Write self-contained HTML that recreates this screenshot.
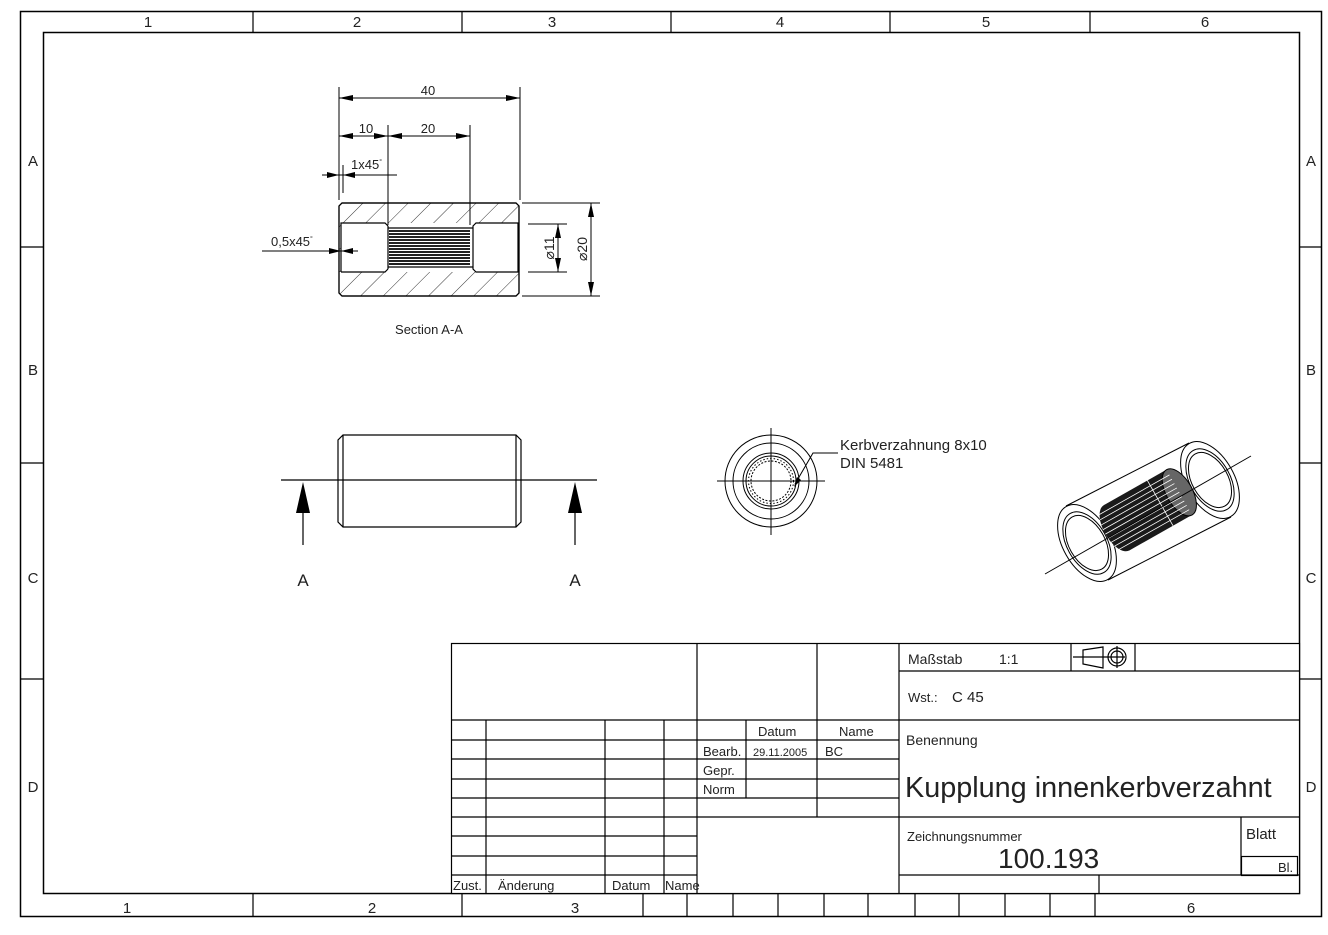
<!DOCTYPE html>
<html><head><meta charset="utf-8"><style>
html,body{margin:0;padding:0;background:#fff;}
svg{display:block;font-family:"Liberation Sans",Arial,sans-serif;}
</style></head><body>
<svg width="1328" height="935" viewBox="0 0 1328 935" xmlns="http://www.w3.org/2000/svg">
<defs>
<pattern id="hatch" patternUnits="userSpaceOnUse" width="16" height="16" patternTransform="rotate(45)">
<line x1="0" y1="0" x2="0" y2="16" stroke="#000" stroke-width="0.8"/>
</pattern>
</defs>
<g fill="none" stroke="#000" stroke-width="1.5">
<rect x="20.5" y="11.5" width="1301" height="905"/>
<rect x="43.5" y="32.5" width="1256" height="861"/>
</g>
<g stroke="#000" stroke-width="1.2">
<line x1="253" y1="11" x2="253" y2="32"/><line x1="462" y1="11" x2="462" y2="32"/><line x1="671" y1="11" x2="671" y2="32"/><line x1="890" y1="11" x2="890" y2="32"/><line x1="1090" y1="11" x2="1090" y2="32"/>
<line x1="253" y1="894" x2="253" y2="917"/><line x1="462" y1="894" x2="462" y2="917"/>
<line x1="643" y1="894" x2="643" y2="917"/><line x1="687" y1="894" x2="687" y2="917"/><line x1="733" y1="894" x2="733" y2="917"/><line x1="778" y1="894" x2="778" y2="917"/><line x1="824" y1="894" x2="824" y2="917"/><line x1="868" y1="894" x2="868" y2="917"/><line x1="915" y1="894" x2="915" y2="917"/><line x1="959" y1="894" x2="959" y2="917"/><line x1="1005" y1="894" x2="1005" y2="917"/><line x1="1050" y1="894" x2="1050" y2="917"/><line x1="1095" y1="894" x2="1095" y2="917"/>
<line x1="20" y1="247" x2="43" y2="247"/><line x1="20" y1="463" x2="43" y2="463"/><line x1="20" y1="679" x2="43" y2="679"/>
<line x1="1300" y1="247" x2="1322" y2="247"/><line x1="1300" y1="463" x2="1322" y2="463"/><line x1="1300" y1="679" x2="1322" y2="679"/>
</g>
<g font-size="15" fill="#222" text-anchor="middle">
<text x="148" y="27">1</text><text x="357" y="27">2</text><text x="552" y="27">3</text><text x="780" y="27">4</text><text x="986" y="27">5</text><text x="1205" y="27">6</text>
<text x="127" y="913">1</text><text x="372" y="913">2</text><text x="575" y="913">3</text><text x="1191" y="913">6</text>
<text x="33" y="166">A</text><text x="33" y="375">B</text><text x="33" y="583">C</text><text x="33" y="792">D</text>
<text x="1311" y="166">A</text><text x="1311" y="375">B</text><text x="1311" y="583">C</text><text x="1311" y="792">D</text>
</g>

<!-- Section A-A -->
<path d="M342,203 L516,203 L519,206 L519,293 L516,296 L342,296 L339,293 L339,206 Z" fill="url(#hatch)" stroke="#000" stroke-width="1.2"/>
<rect x="341" y="223" width="177" height="49" fill="#fff"/>
<g fill="none" stroke="#000" stroke-width="1.2">
<path d="M339,206 L342,203 L516,203 L519,206 L519,293 L516,296 L342,296 L339,293 Z"/>
<path d="M341,272 L341,223 L385,223 L388,226 M388,269 L385,272 L341,272"/>
<line x1="388" y1="226" x2="388" y2="269"/>
<path d="M473,226 L476,223 L518,223 L518,272 L476,272 L473,269 Z"/>
<line x1="388" y1="228" x2="473" y2="228"/><line x1="388" y1="267" x2="473" y2="267"/>
</g>
<g stroke="#000" stroke-width="1.8">
<line x1="389" y1="231" x2="470" y2="231"/><line x1="389" y1="234" x2="470" y2="234"/><line x1="389" y1="237" x2="470" y2="237"/><line x1="389" y1="240" x2="470" y2="240"/><line x1="389" y1="243" x2="470" y2="243"/><line x1="389" y1="246" x2="470" y2="246"/><line x1="389" y1="249" x2="470" y2="249"/><line x1="389" y1="252" x2="470" y2="252"/><line x1="389" y1="255" x2="470" y2="255"/><line x1="389" y1="258" x2="470" y2="258"/><line x1="389" y1="261" x2="470" y2="261"/><line x1="389" y1="264" x2="470" y2="264"/>
</g>
<!-- dims -->
<g stroke="#000" stroke-width="1" fill="none">
<line x1="339" y1="87" x2="339" y2="200"/><line x1="520" y1="87" x2="520" y2="200"/>
<line x1="339" y1="98" x2="520" y2="98"/>
<line x1="388" y1="125" x2="388" y2="225"/><line x1="470" y1="125" x2="470" y2="225"/>
<line x1="339" y1="136" x2="470" y2="136"/>
<line x1="322" y1="175" x2="397" y2="175"/><line x1="343" y1="165" x2="343" y2="193"/>
<line x1="262" y1="251" x2="358" y2="251"/>
<line x1="522" y1="203" x2="600" y2="203"/><line x1="522" y1="296" x2="600" y2="296"/>
<line x1="528" y1="224" x2="567" y2="224"/><line x1="528" y1="272" x2="567" y2="272"/>
<line x1="591" y1="203" x2="591" y2="296"/><line x1="558" y1="224" x2="558" y2="272"/>
</g>
<g fill="#000">
<path d="M339,98 l14,-3 v6z"/><path d="M520,98 l-14,-3 v6z"/>
<path d="M339,136 l14,-3 v6z"/><path d="M388,136 l-14,-3 v6z"/><path d="M388,136 l14,-3 v6z"/><path d="M470,136 l-14,-3 v6z"/>
<path d="M339,175 l-12,-3 v6z"/><path d="M343,175 l12,-3 v6z"/>
<path d="M341,251 l-12,-3 v6z"/><path d="M341,251 l12,-3 v6z"/>
<path d="M591,203 l-3,14 h6z"/><path d="M591,296 l-3,-14 h6z"/>
<path d="M558,224 l-3,14 h6z"/><path d="M558,272 l-3,-14 h6z"/>
</g>
<g font-size="13" fill="#222">
<text x="428" y="95" text-anchor="middle">40</text>
<text x="366" y="133" text-anchor="middle">10</text>
<text x="428" y="133" text-anchor="middle">20</text>
<text x="351" y="169">1x45<tspan font-size="7" dy="-5">°</tspan></text>
<text x="271" y="246">0,5x45<tspan font-size="7" dy="-5">°</tspan></text>
<text transform="translate(554,248) rotate(-90)" text-anchor="middle" font-size="14">⌀11</text>
<text transform="translate(587,249) rotate(-90)" text-anchor="middle" font-size="14">⌀20</text>
<text x="429" y="334" text-anchor="middle">Section A-A</text>
</g>

<!-- Front view -->
<g fill="none" stroke="#000" stroke-width="1.2">
<path d="M343,435 L516,435 L521,440 L521,522 L516,527 L343,527 L338,522 L338,440 Z"/>
<line x1="343" y1="435" x2="343" y2="527"/><line x1="516" y1="435" x2="516" y2="527"/>
<line x1="281" y1="480" x2="597" y2="480"/>
<line x1="303" y1="500" x2="303" y2="545"/><line x1="575" y1="500" x2="575" y2="545"/>
</g>
<path d="M303,482 l-7,31 h14z M575,482 l-7,31 h14z" fill="#000"/>
<g font-size="17" fill="#222" text-anchor="middle"><text x="303" y="586">A</text><text x="575" y="586">A</text></g>

<!-- Circle view -->
<g fill="none" stroke="#000" stroke-width="1">
<circle cx="771" cy="481" r="46"/><circle cx="771" cy="481" r="38"/>
<circle cx="771" cy="481" r="28"/><circle cx="771" cy="481" r="25"/>
<circle cx="771" cy="481" r="20" stroke-dasharray="2 1.5"/>
<circle cx="771" cy="481" r="22.5" stroke-dasharray="1.5 2"/>
<line x1="717" y1="481" x2="825" y2="481"/><line x1="771" y1="428" x2="771" y2="535"/>
<polyline points="795,484 813,453 838,453"/>
</g>
<path d="M794,487 l3,-10 l4,3z" fill="#000"/>
<g font-size="15" fill="#222"><text x="840" y="450">Kerbverzahnung 8x10</text><text x="840" y="468">DIN 5481</text></g>

<!-- Isometric -->
<g fill="none" stroke="#000" stroke-width="1">
<line x1="1066" y1="506" x2="1189" y2="443"/>
<line x1="1108" y1="580" x2="1231" y2="517"/>
<ellipse cx="1087" cy="543" rx="24" ry="42" transform="rotate(-29.5 1087 543)" fill="#fff"/>
<ellipse cx="1087" cy="543" rx="20" ry="34" transform="rotate(-29.5 1087 543)"/>
<ellipse cx="1087" cy="543" rx="18" ry="30" transform="rotate(-29.5 1087 543)"/>
<ellipse cx="1210" cy="480" rx="24" ry="42" transform="rotate(-29.5 1210 480)"/>
<ellipse cx="1210" cy="480" rx="20" ry="34" transform="rotate(-29.5 1210 480)"/>
<ellipse cx="1210" cy="480" rx="18" ry="30" transform="rotate(-29.5 1210 480)"/>
</g>
<g transform="translate(1148,510) rotate(-29.5)">
<rect x="-36" y="-26" width="72" height="52" fill="#1a1a1a"/>
<ellipse cx="-36" cy="0" rx="13" ry="26" fill="#1a1a1a"/>
<ellipse cx="36" cy="0" rx="13" ry="26" fill="#666" stroke="#000"/>
<g stroke="#fff" stroke-width="0.8">
<line x1="-46" y1="-20" x2="36" y2="-20"/><line x1="-48" y1="-15" x2="36" y2="-15"/><line x1="-49" y1="-10" x2="36" y2="-10"/><line x1="-49" y1="-5" x2="36" y2="-5"/><line x1="-49" y1="0" x2="36" y2="0"/><line x1="-49" y1="5" x2="36" y2="5"/><line x1="-49" y1="10" x2="36" y2="10"/><line x1="-48" y1="15" x2="36" y2="15"/><line x1="-46" y1="20" x2="36" y2="20"/>
</g>
<line x1="14" y1="-26" x2="14" y2="26" stroke="#fff" stroke-width="0.8"/>
</g>
<line x1="1045" y1="574" x2="1251" y2="456" stroke="#000" stroke-width="1"/>

<!-- Title block -->
<rect x="451" y="643" width="849" height="251" fill="#fff"/>
<g stroke="#000" stroke-width="1.2" fill="none">
<rect x="451.5" y="643.5" width="848" height="250"/>
<line x1="697" y1="643" x2="697" y2="894"/><line x1="817" y1="643" x2="817" y2="817"/><line x1="899" y1="643" x2="899" y2="894"/>
<line x1="451" y1="720" x2="1300" y2="720"/>
<line x1="451" y1="740" x2="899" y2="740"/><line x1="451" y1="759" x2="899" y2="759"/><line x1="451" y1="779" x2="899" y2="779"/><line x1="451" y1="798" x2="899" y2="798"/>
<line x1="451" y1="817" x2="899" y2="817"/><line x1="451" y1="836" x2="697" y2="836"/><line x1="451" y1="856" x2="697" y2="856"/><line x1="451" y1="875" x2="697" y2="875"/>
<line x1="486" y1="720" x2="486" y2="894"/><line x1="605" y1="720" x2="605" y2="894"/><line x1="664" y1="720" x2="664" y2="894"/>
<line x1="746" y1="720" x2="746" y2="798"/>
<line x1="899" y1="671" x2="1300" y2="671"/><line x1="1071" y1="643" x2="1071" y2="671"/><line x1="1135" y1="643" x2="1135" y2="671"/>
<line x1="899" y1="817" x2="1300" y2="817"/><line x1="899" y1="875" x2="1300" y2="875"/><line x1="1099" y1="875" x2="1099" y2="894"/>
<line x1="1241" y1="817" x2="1241" y2="875"/><rect x="1241.5" y="856.5" width="56" height="19"/>
<line x1="1073" y1="657" x2="1125" y2="657"/>
<path d="M1083,650 L1103,647 L1103,668 L1083,664 Z"/>
<circle cx="1117" cy="657" r="9"/><circle cx="1117" cy="657" r="6"/><line x1="1117" y1="646" x2="1117" y2="668"/>
</g>
<g font-size="13" fill="#222">
<text x="758" y="736">Datum</text><text x="839" y="736">Name</text>
<text x="703" y="756">Bearb.</text><text x="753" y="756" font-size="11">29.11.2005</text><text x="825" y="756">BC</text>
<text x="703" y="775">Gepr.</text><text x="703" y="794">Norm</text>
<text x="453" y="890">Zust.</text><text x="498" y="890">Änderung</text><text x="612" y="890">Datum</text><text x="665" y="890">Name</text>
<text x="908" y="664" font-size="14">Maßstab</text><text x="999" y="664" font-size="14">1:1</text>
<text x="908" y="702">Wst.:</text><text x="952" y="702" font-size="15">C 45</text>
<text x="906" y="745" font-size="14">Benennung</text>
<text x="905" y="797" font-size="28.8">Kupplung innenkerbverzahnt</text>
<text x="907" y="841">Zeichnungsnummer</text>
<text x="998" y="868" font-size="28">100.193</text>
<text x="1246" y="839" font-size="15">Blatt</text>
<text x="1278" y="872">Bl.</text>
</g>
</svg>
</body></html>
